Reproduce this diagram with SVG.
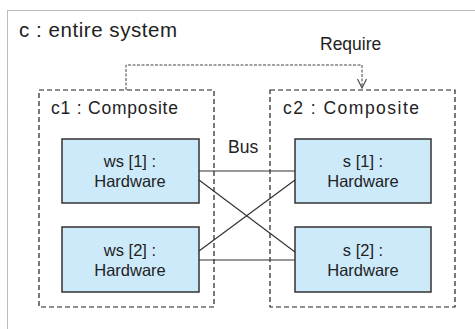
<svg xmlns="http://www.w3.org/2000/svg" width="475" height="329" viewBox="0 0 475 329">
  <defs>
    <marker id="openArrow" markerWidth="12" markerHeight="12" refX="10" refY="5" orient="auto" markerUnits="userSpaceOnUse">
      <path d="M1,0.5 L10,5 L1,9.5" fill="none" stroke="#444" stroke-width="1.1"/>
    </marker>
  </defs>
  <style>
    text { font-family: "Liberation Sans", Arial, sans-serif; fill: #222; }
    .frame { fill: none; stroke: #777; stroke-width: 1; stroke-dasharray: 1 1; }
    .part { fill: none; stroke: #222; stroke-width: 1.2; stroke-dasharray: 5 3; }
    .hw { fill: #cdeafb; stroke: #333; stroke-width: 1.5; }
    .bus { stroke: #333; stroke-width: 1.2; fill: none; }
    .dep { stroke: #444; stroke-width: 1; fill: none; stroke-dasharray: 3 1.5; }
    .title { font-size: 20.5px; }
    .lbl { font-size: 17.5px; }
    .node { font-size: 16.5px; text-anchor: middle; }
  </style>

  <!-- system frame -->
  <g id="system">
    <rect class="frame" x="7.5" y="10.5" width="480" height="330"/>
    <text class="title" x="19" y="37" textLength="158" lengthAdjust="spacing">c : entire system</text>
  </g>

  <!-- composite parts -->
  <g id="c1">
    <rect class="part" x="39" y="90" width="175" height="217"/>
    <text class="lbl" x="51" y="114" textLength="127" lengthAdjust="spacing">c1 : Composite</text>
  </g>
  <g id="c2">
    <rect class="part" x="270" y="90" width="185" height="217"/>
    <text class="lbl" x="283" y="114" textLength="136" lengthAdjust="spacing">c2 : Composite</text>
  </g>

  <!-- hardware nodes -->
  <g id="ws1">
    <rect class="hw" x="62" y="139" width="137" height="64"/>
    <text class="node" x="130" y="167">ws [1] :</text>
    <text class="node" x="130" y="187">Hardware</text>
  </g>
  <g id="ws2">
    <rect class="hw" x="62" y="227" width="137" height="65"/>
    <text class="node" x="130" y="256">ws [2] :</text>
    <text class="node" x="130" y="276">Hardware</text>
  </g>
  <g id="s1">
    <rect class="hw" x="295" y="139" width="136" height="64"/>
    <text class="node" x="363" y="167">s [1] :</text>
    <text class="node" x="363" y="187">Hardware</text>
  </g>
  <g id="s2">
    <rect class="hw" x="295" y="227" width="136" height="65"/>
    <text class="node" x="363" y="256">s [2] :</text>
    <text class="node" x="363" y="276">Hardware</text>
  </g>

  <!-- connectors -->
  <g id="connectors">
    <line class="bus" x1="199" y1="171" x2="295" y2="171"/>
    <line class="bus" x1="199" y1="180" x2="295" y2="252"/>
    <line class="bus" x1="199" y1="251" x2="295" y2="180"/>
    <line class="bus" x1="199" y1="260" x2="295" y2="260"/>
    <text class="lbl" x="228" y="153">Bus</text>
    <polyline class="dep" points="126,90 126,65 362,65 362,88" marker-end="url(#openArrow)"/>
    <text class="lbl" x="320" y="50">Require</text>
  </g>
</svg>
